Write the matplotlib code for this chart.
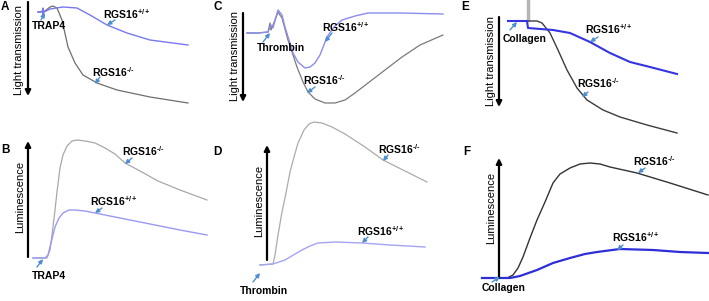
import matplotlib
matplotlib.use("Agg")
import matplotlib.pyplot as plt

plt.rcParams['font.family'] = ['Liberation Sans', 'DejaVu Sans']
plt.rcParams['mathtext.fontset'] = 'custom'
plt.rcParams['mathtext.rm'] = 'Liberation Sans:bold'
plt.rcParams['mathtext.it'] = 'Liberation Sans:bold'
plt.rcParams['mathtext.bf'] = 'Liberation Sans:bold'

# traces (time in arbitrary units, signal in arbitrary units)
# A: aggregation, TRAP4
a_ko_t = [0, 7, 12, 15, 19, 24, 30, 37, 45, 59, 79, 112, 150]
a_ko_v = [0, -1, -5, -6, -4, 8, 35, 51, 63, 71, 78, 85, 91]
a_wt_t = [0, 4, 5, 5, 6, 12, 25, 39, 52, 69, 89, 112, 150]
a_wt_v = [0, 0, -4, 3, 0, -3, -5, -4, 3, 13, 21, 28, 33]

# B: ATP release, TRAP4
b_ko_t = [0, 14, 17, 19, 22, 24, 27, 30, 34, 39, 44, 52, 62, 72, 82, 92, 107, 125, 147, 174]
b_ko_v = [0, 0, 8, 23, 48, 66, 90, 103, 112, 117, 118, 117, 115, 110, 104, 95, 87, 77, 68, 58]
b_wt_t = [0, 12, 15, 17, 20, 22, 26, 30, 36, 42, 52, 62, 87, 117, 147, 174]
b_wt_v = [0, 0, 3, 11, 23, 31, 40, 45, 48, 48, 47, 45, 40, 34, 28, 23]

# C: aggregation, thrombin
c_ko_t = [0, 11, 21, 23, 24, 26, 31, 35, 41, 46, 50, 56, 61, 68, 78, 88, 98, 108, 121, 138, 155, 173, 196]
c_ko_v = [0, 0, -1, -10, -3, -8, -21, -15, 7, 22, 34, 49, 59, 66, 70, 70, 67, 60, 50, 37, 24, 12, 2]
c_wt_t = [0, 11, 21, 24, 26, 31, 35, 38, 42, 46, 51, 58, 63, 68, 73, 80, 87, 95, 108, 121, 153, 196]
c_wt_v = [0, 0, -1, -8, -5, -23, -18, -6, 7, 20, 29, 35, 34, 30, 22, 4, -6, -13, -17, -20, -20, -19]

# D: ATP release, thrombin
d_ko_t = [0, 13, 15, 18, 22, 26, 30, 34, 38, 44, 49, 54, 62, 72, 85, 105, 123, 145, 167]
d_ko_v = [0, 1, 10, 30, 53, 72, 93, 108, 122, 135, 141, 143, 142, 138, 131, 118, 105, 94, 83]
d_wt_t = [0, 13, 25, 35, 42, 50, 58, 75, 102, 130, 165]
d_wt_v = [0, 1, 5, 11, 15, 19, 22, 23, 22, 20, 18]

# E: aggregation, collagen
e_ko_t = [0, 19, 29, 34, 42, 50, 59, 69, 79, 95, 112, 139, 169]
e_ko_v = [0, 0, 0, 2, 12, 29, 49, 67, 79, 89, 96, 104, 112]
e_wt_t = [0, 19, 20, 45, 62, 82, 102, 122, 142, 169]
e_wt_v = [0, 0, 7, 9, 12, 21, 32, 41, 46, 53]
e_spike_t = [20, 20]
e_spike_v = [-21, -1]

# F: ATP release, collagen
f_ko_t = [0, 25, 31, 36, 41, 48, 55, 63, 71, 78, 88, 98, 108, 118, 128, 155, 188, 226]
f_ko_v = [0, 0, 3, 10, 21, 40, 58, 76, 95, 104, 110, 114, 115, 114, 111, 105, 95, 83]
f_wt_t = [0, 28, 38, 55, 71, 88, 103, 115, 138, 171, 198, 226]
f_wt_v = [0, 0, 2, 8, 15, 20, 24, 26, 29, 28, 26, 25]

KO = 'RGS16$^{\u2010/\u2010}$'
WT = r'RGS16$^{+/+}$'
ARROW_C = '#4d8fd1'
W, H = 709, 301

fig = plt.figure(figsize=(W / 100, H / 100), dpi=100)


def panel(cell, origin, down):
    # cell: pixel box (x0, y0, x1, y1); origin: pixel of trace start
    x0, y0, x1, y1 = cell
    ox, oy = origin
    ax = fig.add_axes([x0 / W, 1 - y1 / H, (x1 - x0) / W, (y1 - y0) / H])
    ax.set_xlim(x0 - ox, x1 - ox)
    if down:
        ax.set_ylim(y1 - oy, y0 - oy)
    else:
        ax.set_ylim(oy - y1, oy - y0)
    ax.axis('off')
    return ax


def label(ax, s, pos, tail=None, tip=None, size=7.5):
    ax.text(pos[0], pos[1], s, ha='left', va='center', fontsize=size,
            fontweight='bold', clip_on=False)
    if tail is not None:
        ax.annotate('', xy=tip, xytext=tail,
                    arrowprops=dict(arrowstyle='-|>', color=ARROW_C, lw=1,
                                    mutation_scale=6, shrinkA=0, shrinkB=0))


def axis_arrow(ax, t, start, end, text, text_t, text_v, letter, letter_pos):
    ax.annotate('', xy=(t, end), xytext=(t, start),
                arrowprops=dict(arrowstyle='-|>', color='black', lw=1.6,
                                mutation_scale=8, shrinkA=0, shrinkB=0))
    ax.text(text_t, text_v, text, rotation=90, ha='center', va='center',
            fontsize=8)
    ax.text(letter_pos[0], letter_pos[1], letter, fontsize=8.5,
            fontweight='bold', ha='center', va='center')


# A
ax = panel((0, 0, 235, 135), (38, 12), True)
ax.plot(a_ko_t, a_ko_v, color='#6e6e6e', lw=0.9, clip_on=False)
ax.plot(a_wt_t, a_wt_v, color='#7878ee', lw=1.0, clip_on=False)
axis_arrow(ax, -10, -10, 84, 'Light transmission', -19, 38, 'A', (-33, -5))
label(ax, WT, (65, 2), (77, 8), (69, 13))
label(ax, KO, (54, 60), (62, 65), (57, 72))
label(ax, 'TRAP4', (-6, 14), (3, 8), (7, 1))

# B
ax = panel((0, 135, 235, 301), (33, 258), False)
ax.plot(b_ko_t, b_ko_v, color='#a8a8a8', lw=0.9, clip_on=False)
ax.plot(b_wt_t, b_wt_v, color='#9a9af2', lw=1.0, clip_on=False)
axis_arrow(ax, -5, 1, 117, 'Luminescence', -13, 61, 'B', (-28, 108))
label(ax, KO, (89, 107), (99, 100), (92, 94))
label(ax, WT, (57, 57), (69, 50), (62, 45))
label(ax, 'TRAP4', (-1, -18), (4, -9), (10, -1))

# C
ax = panel((205, 0, 470, 135), (247, 33), True)
ax.plot(c_ko_t, c_ko_v, color='#7a7a7a', lw=0.9, clip_on=False)
ax.plot(c_wt_t, c_wt_v, color='#8c8cf0', lw=1.0, clip_on=False)
axis_arrow(ax, -4, -20, 69, 'Light transmission', -12, 23, 'C', (-29, -26))
label(ax, 'Thrombin', (10, 15), (16, 9), (23, 0))
label(ax, WT, (75, -6), (85, 0), (78, 9))
label(ax, KO, (56, 47), (68, 54), (60, 60))

# D
ax = panel((205, 135, 470, 301), (260, 265), False)
ax.plot(d_ko_t, d_ko_v, color='#ababab', lw=0.9, clip_on=False)
ax.plot(d_wt_t, d_wt_v, color='#a4a4f2', lw=1.0, clip_on=False)
axis_arrow(ax, 7, 5, 120, 'Luminescence', -1, 64, 'D', (-43, 113))
label(ax, KO, (118, 116), (128, 110), (123, 104))
label(ax, WT, (97, 34), (108, 28), (102, 22))
label(ax, 'Thrombin', (-20, -26), (-7, -17), (0, -8))

# E
ax = panel((455, 0, 709, 135), (508, 21), True)
ax.plot(e_spike_t, e_spike_v, color='#b5b5b5', lw=2.5, clip_on=False)
ax.plot(e_ko_t, e_ko_v, color='#3c3c3c', lw=1.0, clip_on=False)
ax.plot(e_wt_t, e_wt_v, color='#3434e0', lw=1.5, clip_on=False)
axis_arrow(ax, -9, -4, 86, 'Light transmission', -17, 40, 'E', (-43, -14))
label(ax, 'Collagen', (-5, 18), (2, 9), (9, 1))
label(ax, WT, (77, 8), (90, 16), (82, 21))
label(ax, KO, (69, 62), (80, 71), (74, 76))

# F
ax = panel((455, 135, 709, 301), (482, 278), False)
ax.plot(f_ko_t, f_ko_v, color='#333333', lw=1.0, clip_on=False)
ax.plot(f_wt_t, f_wt_v, color='#2e2ed8', lw=1.6, clip_on=False)
axis_arrow(ax, 17, 0, 120, 'Luminescence', 9, 70, 'F', (-15, 126))
label(ax, KO, (151, 117), (163, 110), (156, 105))
label(ax, WT, (130, 41), (141, 33), (135, 28))
label(ax, 'Collagen', (0, -10), (10, -4), (18, 1))

fig.savefig('out.png', dpi=100)
